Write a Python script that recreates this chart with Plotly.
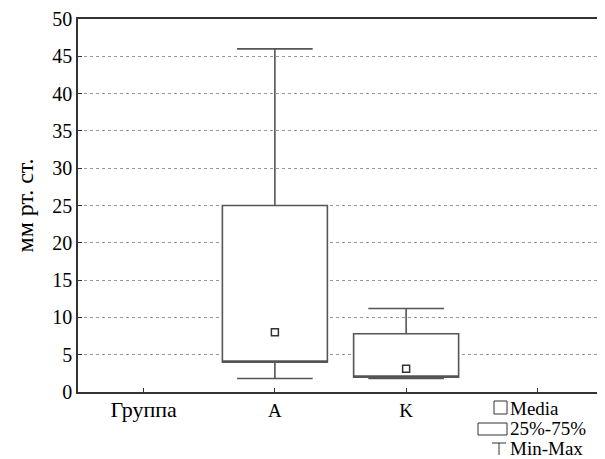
import plotly.graph_objects as go

categories = ["Группа", "A", "K", " "]
groups = ["A", "K"]
q1 = [4.0, 2.0]
median = [8.0, 3.1]
q3 = [25.0, 7.8]
vmin = [1.8, 1.8]
vmax = [46.0, 11.2]
y_ticks = [0, 5, 10, 15, 20, 25, 30, 35, 40, 45, 50]
legend_labels = ["Media", "25%-75%", "Min-Max"]

OFF = 8  # default body margin of the html page
W, H = 605 - OFF, 459 - OFF
L, R, T, B = 78 - OFF, 2, 19 - OFF, 67
pw, ph = W - L - R, H - T - B

def px_x(x):
    return (x - OFF - L) / pw

def px_y(y):
    return (H - B - (y - OFF)) / ph

FONT = "'Liberation Serif', 'Times New Roman', serif"
EDGE = "#555555"

fig = go.Figure()
fig.add_trace(go.Box(
    x=groups, q1=q1, median=q1, q3=q3, lowerfence=vmin, upperfence=vmax,
    width=0.8, whiskerwidth=0.72, fillcolor="white",
    line=dict(color=EDGE, width=1.6), boxpoints=False, showlegend=False,
    hoverinfo="skip",
))
fig.add_trace(go.Scatter(
    x=groups, y=median, mode="markers", showlegend=False,
    marker=dict(symbol="square", size=7, color="white", line=dict(color="#333333", width=1.5)),
))

ticktext = ["<span style='font-size:22px'>" + categories[0] + "</span>"] + categories[1:]

fig.update_layout(
    width=W, height=H, margin=dict(l=L, r=R, t=T, b=B, autoexpand=False),
    paper_bgcolor="white", plot_bgcolor="white",
    font=dict(family=FONT, color="black", size=19),
    showlegend=False,
)
fig.update_xaxes(
    type="category", categoryorder="array", categoryarray=categories,
    tickvals=categories, ticktext=ticktext,
    range=[-0.5, 3.5], showline=True, linecolor="#333333", linewidth=1.5, mirror=True,
    ticks="inside", ticklen=4, tickcolor="#333333", showgrid=False,
    tickfont=dict(family=FONT, size=19, color="black"),
)
fig.update_yaxes(
    range=[0, 50], tickvals=y_ticks, showline=True, linecolor="#333333", linewidth=1.5,
    mirror="ticks", ticks="inside", ticklen=4, tickcolor="#333333",
    showgrid=True, gridcolor="#999999", griddash="dot", gridwidth=1, zeroline=False,
    tickfont=dict(family=FONT, size=20, color="black"),
    title=dict(text="мм рт. ст.", font=dict(family=FONT, size=24, color="black"), standoff=12),
)

# legend (bottom right)
shapes = [
    dict(type="rect", xref="paper", yref="paper", x0=px_x(494), x1=px_x(507), y0=px_y(414), y1=px_y(401),
         line=dict(color="#333333", width=1), fillcolor="white"),
    dict(type="rect", xref="paper", yref="paper", x0=px_x(478), x1=px_x(507), y0=px_y(435), y1=px_y(423),
         line=dict(color="#333333", width=1), fillcolor="white"),
    dict(type="line", xref="paper", yref="paper", x0=px_x(492), x1=px_x(506), y0=px_y(443), y1=px_y(443),
         line=dict(color="#333333", width=1)),
    dict(type="line", xref="paper", yref="paper", x0=px_x(499), x1=px_x(499), y0=px_y(443), y1=px_y(455),
         line=dict(color="#333333", width=1)),
]
fig.update_layout(shapes=shapes)
for lab, yc in zip(legend_labels, [408, 428.5, 448]):
    fig.add_annotation(text=lab, xref="paper", yref="paper", x=px_x(508), y=px_y(yc),
                       xanchor="left", yanchor="middle", showarrow=False,
                       font=dict(family=FONT, size=19, color="black"))

fig.write_html("out.html")
